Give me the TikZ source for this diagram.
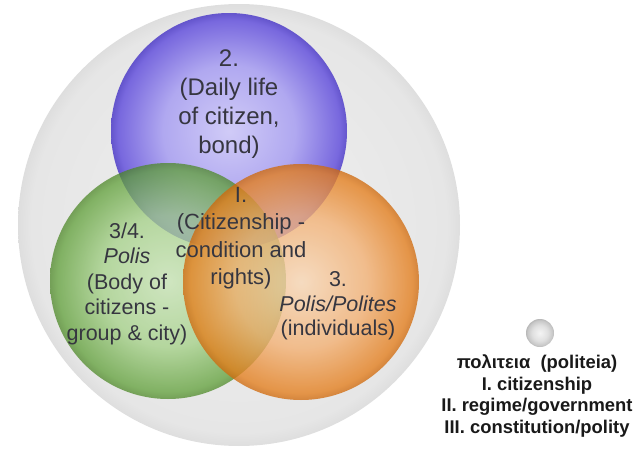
\documentclass[tikz,border=0pt]{standalone}
\usepackage{fontspec}
\setmainfont{Liberation Sans}
\usetikzlibrary{calc}

% Sphere-like radial shading whose colours are taken from vin/vmid/vout/vedge
\pgfdeclareradialshading[vin,vmid,vout,vedge]{venn}{\pgfpoint{0bp}{0bp}}{%
  color(0bp)=(vin); color(14bp)=(vmid); color(23.5bp)=(vout);
  color(25bp)=(vedge); color(50bp)=(vedge)}

\definecolor{txt}{HTML}{363640}

\tikzset{
  venncolors/.code n args={4}{%
    \definecolor{vin}{HTML}{#1}\definecolor{vmid}{HTML}{#2}%
    \definecolor{vout}{HTML}{#3}\definecolor{vedge}{HTML}{#4}},
  setdisc/.style={circle, inner sep=0pt, minimum size=236pt, shade, shading=venn},
  setlabel/.style={align=center, text=txt, inner sep=0pt},
  legendline/.style={align=center, text=black!90, inner sep=0pt,
    font=\bfseries\fontsize{18.4}{21.7}\selectfont},
}

\begin{document}
\begin{tikzpicture}[x=1pt, y=-1pt]
  \useasboundingbox (0,0) rectangle (633,450);

  % outer grey disc
  \node[circle, inner sep=0pt, minimum size=442pt, shade, shading=venn,
        venncolors={ECECEC}{EAEAEA}{E6E6E6}{DEDEDE}]
        (outer) at (239,225) {};

  % three overlapping sets
  \node[setdisc, venncolors={D0CBF7}{B0A8F0}{7868DE}{6455CC}]
        (purple) at (229,131) {};
  \node[setdisc, fill opacity=0.74,
        venncolors={C6E4B2}{A2D084}{5E9F36}{4C8726}]
        (green) at (168,281) {};
  \node[setdisc, fill opacity=0.78,
        venncolors={F9D7B4}{F3B072}{E47E1C}{CF6A0E}]
        (orange) at (301,282) {};

  % labels of the sets
  \node[setlabel, font=\fontsize{24}{29}\selectfont] (lpurple) at (229,104)
    {2.\\(Daily life\\of citizen,\\bond)};
  \node[setlabel, font=\fontsize{22}{27.5}\selectfont] (lcentre) at (241,238)
    {I.\\(Citizenship -\\condition and\\rights)};
  \node[setlabel, font=\fontsize{21.5}{25.5}\selectfont] (lgreen) at (127,283.5)
    {3/4.\\\textit{Polis}\\(Body of\\citizens -\\group \& city)};
  \node[setlabel, font=\fontsize{21.5}{24.5}\selectfont] (lorange) at (338,306)
    {3.\\\textit{Polis/Polites}\\(individuals)};

  % legend
  \node[circle, inner sep=0pt, minimum size=28pt, shade, shading=venn,
        venncolors={F4F4F4}{E0E0E0}{C4C4C4}{B4B4B4}]
        (ball) at (540,333) {};
  \node[legendline] (legend) at (537,396)
    {πολιτεια\ \ (politeia)\\I. citizenship\\II. regime/government\\III. constitution/polity};
\end{tikzpicture}
\end{document}
